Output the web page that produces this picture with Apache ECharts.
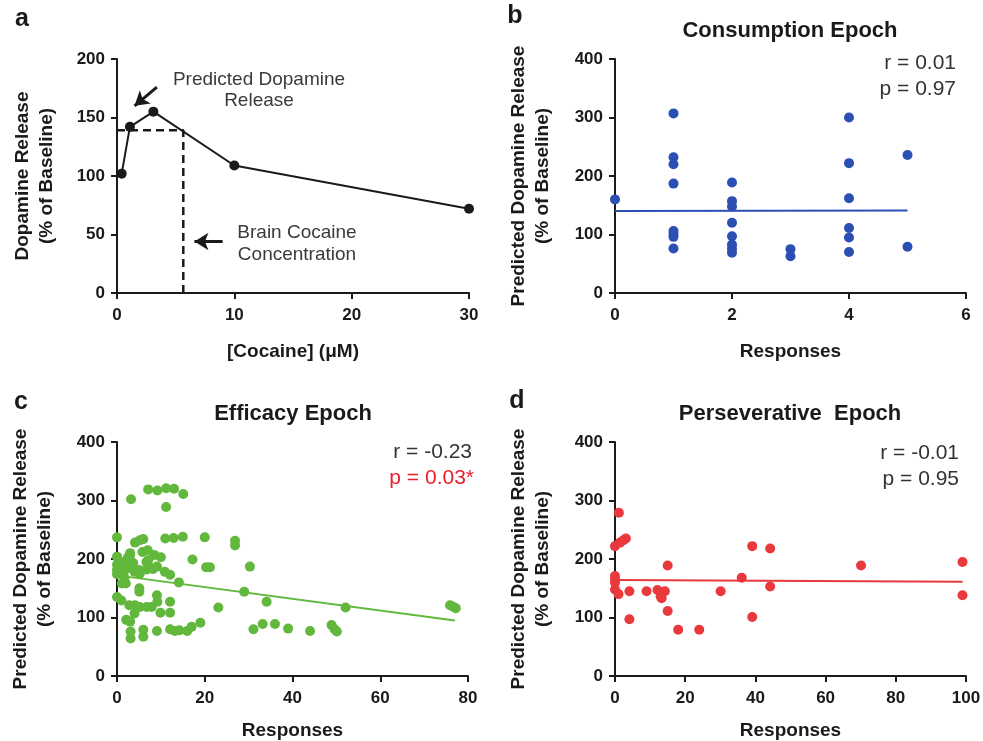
<!DOCTYPE html>
<html>
<head>
<meta charset="utf-8">
<script src="https://cdn.jsdelivr.net/npm/echarts@6/dist/echarts.min.js"></script>
<style>
  html, body { margin: 0; padding: 0; background: #fff; }
  #chart { width: 983px; height: 741px; }
</style>
</head>
<body>
<div id="chart"></div>
<script>
// panel a: dose response curve
const cocaineDose = [[0.4, 102], [1.1, 142], [3.1, 155], [10, 109], [30, 72]];
const brainConcLine = [[0, 139], [5.65, 139], [5.65, 0]];
const predictedArrow = [[3.4, 176], [1.5, 160]];
const brainArrow = [[9, 44], [6.6, 44]];

// panel b: consumption epoch
const consumption = [
  [0, 160],
  [1, 307], [1, 232], [1, 220], [1, 187], [1, 106], [1, 101], [1, 96], [1, 76],
  [2, 189], [2, 157], [2, 148], [2, 120], [2, 97], [2, 83], [2, 76], [2, 69],
  [3, 75], [3, 63],
  [4, 300], [4, 222], [4, 162], [4, 111], [4, 95], [4, 70],
  [5, 236], [5, 79]
];
const consumptionFit = [[0, 140], [5, 141]];

// panel c: efficacy epoch
const efficacy = [
  [0, 237], [0, 204], [0, 190], [0, 181], [0, 174], [0, 135],
  [0.7, 195], [0.7, 187], [1, 129], [1.1, 158], [1.4, 192], [1.5, 173], [1.7, 166],
  [2, 158], [2.2, 198], [2.2, 184], [2.5, 203], [2.8, 121], [3, 210], [3, 207],
  [3.2, 302], [2.1, 96], [3, 93], [3.1, 76], [3.1, 64],
  [4, 107], [4.1, 121], [4.1, 228], [3.7, 193], [5.2, 232], [6, 234], [5.8, 212],
  [5.2, 175], [4, 178], [5.1, 150], [5.1, 144], [5.1, 181], [5.2, 118], [6, 79],
  [6, 67], [6.7, 195], [6.8, 182], [6.8, 118], [7, 215], [7.1, 198], [7.9, 184],
  [7.9, 118], [8.5, 207], [8.2, 183],
  [7.1, 319], [9.2, 317], [11.2, 321], [13, 320], [15.1, 311], [11.2, 289],
  [10, 203], [9.1, 187], [9.1, 138], [9.2, 127], [9.9, 108], [9.1, 77],
  [11, 235], [12.9, 236], [15, 238], [10.9, 178], [12.1, 173], [14.1, 160],
  [12.1, 127], [12.1, 108],
  [12.1, 80], [13.2, 77], [14.2, 78], [16, 77], [17, 84], [19, 91], [17.2, 199],
  [20, 237], [20.3, 186], [21.2, 186], [23.1, 117], [26.9, 231], [26.9, 223],
  [29, 144], [30.3, 187], [31.1, 80], [33.2, 89], [34.1, 127], [36, 89], [39, 81],
  [44, 77], [48.9, 87], [49.6, 80], [50.1, 76], [52.1, 117],
  [75.9, 121], [76.5, 119], [77.2, 116]
];
const efficacyFit = [[0, 172], [77, 95]];

// panel d: perseverative epoch
const perseverative = [
  [1.1, 279], [0, 222], [1.4, 228], [2.4, 232], [3.1, 235],
  [0, 171], [0, 165], [0, 160], [0, 148], [1, 140], [4.1, 145], [4.1, 97],
  [9, 145], [12.1, 147], [13, 136], [13.3, 133], [14.2, 145], [15, 189], [15, 111],
  [18, 79], [24, 79], [30.1, 145], [36.1, 168], [39.1, 222], [39.1, 101],
  [44.2, 218], [44.2, 153], [70.1, 189], [99, 195], [99, 138]
];
const perseverativeFit = [[0, 164], [99, 161]];

const FONT = '"Liberation Sans", Arial, sans-serif';
const INK = '#1a1a1a';
const BLUE = '#2c4fb4';
const GREEN = '#62b83c';
const RED = '#e9393c';

const grids = [
  { left: 117, top: 59, width: 352, height: 234, outerBoundsMode: 'none' },
  { left: 615, top: 59, width: 351, height: 234, outerBoundsMode: 'none' },
  { left: 117, top: 442, width: 351, height: 234, outerBoundsMode: 'none' },
  { left: 615, top: 442, width: 351, height: 234, outerBoundsMode: 'none' }
];

function xAxis(gridIndex, max, interval, name) {
  return {
    type: 'value', gridIndex, min: 0, max, interval,
    name, nameLocation: 'middle', nameGap: gridIndex < 2 ? 49 : 45,
    nameTextStyle: { fontFamily: FONT, fontWeight: 'bold', fontSize: 19, color: INK },
    axisLine: { show: true, onZero: false, lineStyle: { color: INK, width: 2 } },
    axisTick: { show: true, length: 6, lineStyle: { color: INK, width: 2 } },
    axisLabel: { fontFamily: FONT, fontWeight: 'bold', fontSize: 17, color: INK, margin: 14 },
    splitLine: { show: false }
  };
}

function yAxis(gridIndex, max, interval, name, nameGap) {
  return {
    type: 'value', gridIndex, min: 0, max, interval,
    name, nameLocation: 'middle', nameGap, nameRotate: 90,
    nameTextStyle: { fontFamily: FONT, fontWeight: 'bold', fontSize: 19, color: INK, lineHeight: 24 },
    axisLine: { show: true, onZero: false, lineStyle: { color: INK, width: 2 } },
    axisTick: { show: true, length: 6, lineStyle: { color: INK, width: 2 } },
    axisLabel: { fontFamily: FONT, fontWeight: 'bold', fontSize: 17, color: INK, margin: 12 },
    splitLine: { show: false }
  };
}

function text(x, y, str, opts) {
  return {
    type: 'text', x, y, silent: true,
    style: Object.assign({
      text: str, fontFamily: FONT, fontSize: 19, fill: '#3a3a3a',
      align: 'center', verticalAlign: 'middle'
    }, opts || {})
  };
}

function scatter(i, data, color, size) {
  return {
    type: 'scatter', xAxisIndex: i, yAxisIndex: i, data,
    symbolSize: size, itemStyle: { color, opacity: 1 }, silent: true
  };
}

function fit(i, data, color) {
  return {
    type: 'line', xAxisIndex: i, yAxisIndex: i, data,
    showSymbol: false, lineStyle: { color, width: 2 }, silent: true
  };
}

const chart = echarts.init(document.getElementById('chart'), null, { renderer: 'canvas' });

chart.setOption({
  backgroundColor: '#fff',
  animation: false,
  grid: grids,
  xAxis: [
    xAxis(0, 30, 10, '[Cocaine] (\u03bcM)'),
    xAxis(1, 6, 2, 'Responses'),
    xAxis(2, 80, 20, 'Responses'),
    xAxis(3, 100, 20, 'Responses')
  ],
  yAxis: [
    yAxis(0, 200, 50, 'Dopamine Release\n(% of Baseline)', 58),
    yAxis(1, 400, 100, 'Predicted Dopamine Release\n(% of Baseline)', 60),
    yAxis(2, 400, 100, 'Predicted Dopamine Release\n(% of Baseline)', 60),
    yAxis(3, 400, 100, 'Predicted Dopamine Release\n(% of Baseline)', 60)
  ],
  series: [
    {
      type: 'line', xAxisIndex: 0, yAxisIndex: 0, data: brainConcLine,
      showSymbol: false, lineStyle: { color: INK, width: 2.5, type: [8, 5] }, silent: true
    },
    {
      type: 'line', xAxisIndex: 0, yAxisIndex: 0, data: cocaineDose,
      symbol: 'circle', symbolSize: 10, showSymbol: true,
      itemStyle: { color: INK }, lineStyle: { color: INK, width: 2 }, silent: true,
      markLine: {
        silent: true, symbol: ['none', 'arrow'], symbolSize: [13, 14],
        label: { show: false },
        lineStyle: { color: INK, width: 3, type: 'solid' },
        data: [
          [{ coord: predictedArrow[0] }, { coord: predictedArrow[1] }],
          [{ coord: brainArrow[0] }, { coord: brainArrow[1] }]
        ]
      }
    },
    scatter(1, consumption, BLUE, 10),
    fit(1, consumptionFit, BLUE),
    scatter(2, efficacy, GREEN, 10),
    fit(2, efficacyFit, GREEN),
    scatter(3, perseverative, RED, 10),
    fit(3, perseverativeFit, RED)
  ],
  graphic: [
    text(22, 19, 'a', { fontSize: 25, fontWeight: 'bold', fill: INK }),
    text(515, 16, 'b', { fontSize: 25, fontWeight: 'bold', fill: INK }),
    text(21, 402, 'c', { fontSize: 25, fontWeight: 'bold', fill: INK }),
    text(517, 401, 'd', { fontSize: 25, fontWeight: 'bold', fill: INK }),

    text(259, 80, 'Predicted Dopamine', {}),
    text(259, 101, 'Release', {}),
    text(297, 233, 'Brain Cocaine', {}),
    text(297, 255, 'Concentration', {}),

    text(790, 31, 'Consumption Epoch', { fontSize: 22, fontWeight: 'bold', fill: INK }),
    text(293, 414, 'Efficacy Epoch', { fontSize: 22, fontWeight: 'bold', fill: INK }),
    text(790, 414, 'Perseverative  Epoch', { fontSize: 22, fontWeight: 'bold', fill: INK }),

    text(956, 63, 'r = 0.01', { fontSize: 21, align: 'right', fill: '#333' }),
    text(956, 89, 'p = 0.97', { fontSize: 21, align: 'right', fill: '#333' }),
    text(472, 452, 'r = -0.23', { fontSize: 21, align: 'right', fill: '#333' }),
    text(474, 478, 'p = 0.03*', { fontSize: 21, align: 'right', fill: '#e8202e' }),
    text(959, 453, 'r = -0.01', { fontSize: 21, align: 'right', fill: '#333' }),
    text(959, 479, 'p = 0.95', { fontSize: 21, align: 'right', fill: '#333' })
  ]
});
</script>
</body>
</html>
